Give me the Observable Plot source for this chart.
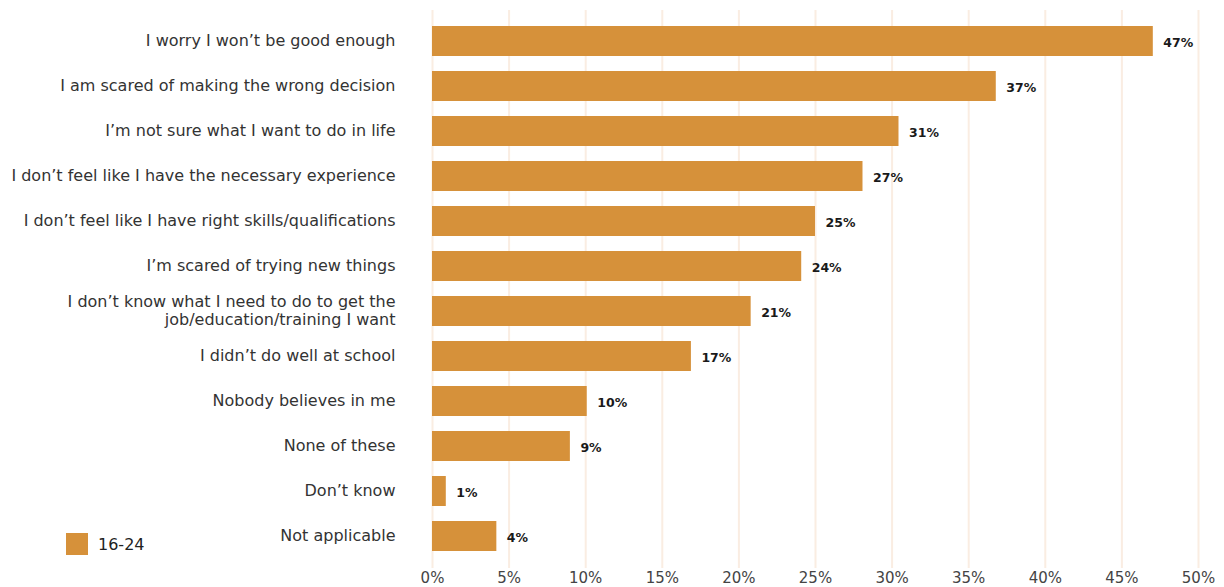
<!DOCTYPE html>
<html>
<head>
<meta charset="utf-8">
<script src="https://cdn.jsdelivr.net/npm/d3@7"></script>
<script src="https://cdn.jsdelivr.net/npm/@observablehq/plot@0.6"></script>
<style>
  html, body { margin: 0; padding: 0; background: #fff; }
  #wrap { position: relative; width: 1224px; height: 587px; font-family: "DejaVu Sans", sans-serif; }
  #legend { position: absolute; left: 66px; top: 533px; display: flex; align-items: center; font-size: 16px; color: #222; }
  #legend .sw { width: 22px; height: 22px; background: #D6913A; margin-right: 10px; }
</style>
</head>
<body>
<div id="wrap">
  <div id="chart"></div>
  <div id="legend"><div class="sw"></div><span>16-24</span></div>
</div>
<script>
const categories = [
  "I worry I won\u2019t be good enough",
  "I am scared of making the wrong decision",
  "I\u2019m not sure what I want to do in life",
  "I don\u2019t feel like I have the necessary experience",
  "I don\u2019t feel like I have right skills/qualifications",
  "I\u2019m scared of trying new things",
  "I don\u2019t know what I need to do to get the\njob/education/training I want",
  "I didn\u2019t do well at school",
  "Nobody believes in me",
  "None of these",
  "Don\u2019t know",
  "Not applicable"
];
// bar lengths as drawn in the reference
const values = [47.05, 36.8, 30.45, 28.1, 25.0, 24.1, 20.8, 16.9, 10.1, 9.0, 0.9, 4.2];
// printed value labels
const valueLabels = ["47%", "37%", "31%", "27%", "25%", "24%", "21%", "17%", "10%", "9%", "1%", "4%"];
const xTicks = [0, 5, 10, 15, 20, 25, 30, 35, 40, 45, 50];
const seriesName = "16-24";

const data = categories.map((c, i) => ({category: c, value: values[i], label: valueLabels[i]}));

const chart = Plot.plot({
  width: 1224,
  height: 587,
  marginLeft: 432,
  marginRight: 26,
  marginTop: 10,
  marginBottom: 19,
  style: {fontFamily: "DejaVu Sans, sans-serif", background: "#fff"},
  x: {domain: [0, 50], ticks: xTicks, tickFormat: d => d + "%", label: null},
  y: {domain: categories, padding: 0.33, label: null},
  marks: [
    Plot.gridX(xTicks, {stroke: "#FAEDE2", strokeOpacity: 1, strokeWidth: 2}),
    Plot.barX(data, {x: "value", y: "category", fill: "#D6913A"}),
    Plot.text(data, {x: "value", y: "category", text: "label", textAnchor: "start", dx: 10, dy: 1.5, fontWeight: "bold", fontSize: 12.5, fill: "#1a1a1a"}),
    Plot.axisX({ticks: xTicks, tickFormat: d => d + "%", tickSize: 0, tickPadding: 4, fontSize: 15, color: "#444", label: null}),
    Plot.axisY({tickSize: 0, tickPadding: 37, fontSize: 16, color: "#333", label: null, lineHeight: 1.18, dy: -1.5})
  ]
});
document.getElementById("chart").appendChild(chart);
</script>
</body>
</html>
